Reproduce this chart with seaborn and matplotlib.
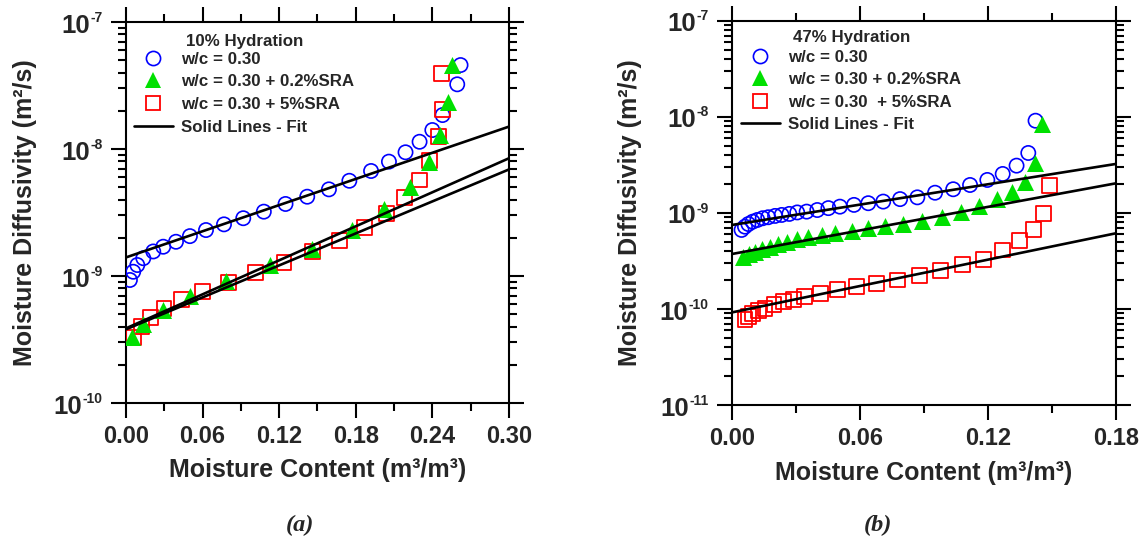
import matplotlib
matplotlib.use("Agg")
import matplotlib.pyplot as plt
from matplotlib.lines import Line2D
from matplotlib.ticker import MultipleLocator, LogLocator, NullFormatter
import seaborn as sns

# ---------------- data (a) 10% hydration ----------------
a_wc_x = [0.0031, 0.0057, 0.0089, 0.0136, 0.0214, 0.0292, 0.0392, 0.0501, 0.0627, 0.0768,
          0.0919, 0.108, 0.125, 0.142, 0.159, 0.175, 0.192, 0.206, 0.219, 0.230,
          0.240, 0.248, 0.2595, 0.2621]
a_wc_y = [9.3e-10, 1.08e-9, 1.22e-9, 1.38e-9, 1.56e-9, 1.70e-9, 1.86e-9, 2.06e-9, 2.30e-9, 2.55e-9,
          2.85e-9, 3.21e-9, 3.69e-9, 4.21e-9, 4.81e-9, 5.62e-9, 6.71e-9, 7.95e-9, 9.42e-9, 1.14e-8,
          1.41e-8, 1.85e-8, 3.23e-8, 4.58e-8]
a_sra02_x = [0.0045, 0.0136, 0.0287, 0.0501, 0.0783, 0.1128, 0.1459, 0.1773, 0.2023, 0.2225,
             0.2376, 0.2460, 0.2525, 0.2556]
a_sra02_y = [3.33e-10, 4.19e-10, 5.40e-10, 6.96e-10, 9.19e-10, 1.21e-9, 1.63e-9, 2.30e-9, 3.35e-9, 4.99e-9,
             7.95e-9, 1.29e-8, 2.36e-8, 4.58e-8]
a_sra5_x = [0.0057, 0.0123, 0.0193, 0.0298, 0.0436, 0.0601, 0.0801, 0.1016, 0.1238, 0.1459,
            0.1671, 0.1872, 0.2042, 0.2185, 0.2297, 0.2381, 0.2446, 0.2480, 0.2473]
a_sra5_y = [3.29e-10, 3.99e-10, 4.73e-10, 5.57e-10, 6.56e-10, 7.52e-10, 8.85e-10, 1.06e-9, 1.27e-9, 1.55e-9,
            1.89e-9, 2.42e-9, 3.12e-9, 4.14e-9, 5.70e-9, 8.09e-9, 1.25e-8, 2.05e-8, 3.94e-8]
a_fit_x = [0.0, 0.30]
a_fit_wc = [1.40e-9, 1.50e-8]
a_fit_sra02 = [3.87e-10, 8.45e-9]
a_fit_sra5 = [3.80e-10, 6.90e-9]

# ---------------- data (b) 47% hydration ----------------
b_wc_x = [0.0045, 0.0061, 0.0077, 0.0097, 0.0119, 0.0144, 0.0170, 0.0202, 0.0233, 0.0269,
          0.0306, 0.0350, 0.0400, 0.0452, 0.0506, 0.0572, 0.0639, 0.0709, 0.0788, 0.0869,
          0.0952, 0.1037, 0.1116, 0.1197, 0.1269, 0.1334, 0.1389, 0.1423]
b_wc_y = [6.64e-10, 7.18e-10, 7.65e-10, 8.09e-10, 8.43e-10, 8.79e-10, 9.00e-10, 9.29e-10, 9.51e-10, 9.75e-10,
          1.01e-9, 1.03e-9, 1.07e-9, 1.12e-9, 1.16e-9, 1.21e-9, 1.26e-9, 1.31e-9, 1.39e-9, 1.45e-9,
          1.62e-9, 1.76e-9, 1.95e-9, 2.20e-9, 2.54e-9, 3.10e-9, 4.20e-9, 9.1e-9]
b_sra02_x = [0.0053, 0.0081, 0.0108, 0.0139, 0.0178, 0.0217, 0.0259, 0.0306, 0.0358, 0.0420,
             0.0483, 0.0561, 0.0639, 0.0717, 0.0803, 0.0889, 0.0983, 0.1072, 0.1159, 0.1241,
             0.1311, 0.1373, 0.1420, 0.1452]
b_sra02_y = [3.50e-10, 3.73e-10, 3.95e-10, 4.18e-10, 4.45e-10, 4.74e-10, 5.01e-10, 5.31e-10, 5.57e-10, 5.89e-10,
             6.13e-10, 6.53e-10, 6.92e-10, 7.31e-10, 7.66e-10, 8.29e-10, 9.14e-10, 1.03e-9, 1.18e-9, 1.39e-9,
             1.66e-9, 2.11e-9, 3.28e-9, 8.5e-9]
b_sra5_x = [0.0061, 0.0077, 0.0097, 0.0124, 0.0155, 0.0197, 0.0241, 0.0288, 0.0342, 0.0416,
            0.0494, 0.0584, 0.0678, 0.0775, 0.0878, 0.0978, 0.1081, 0.1178, 0.1269, 0.1347,
            0.1412, 0.1459, 0.1487]
b_sra5_y = [7.82e-11, 8.32e-11, 8.87e-11, 9.60e-11, 1.02e-10, 1.10e-10, 1.19e-10, 1.26e-10, 1.34e-10, 1.46e-10,
            1.58e-10, 1.71e-10, 1.82e-10, 2.00e-10, 2.21e-10, 2.51e-10, 2.87e-10, 3.29e-10, 4.11e-10, 5.13e-10,
            6.74e-10, 9.91e-10, 1.91e-9]
b_fit_x = [0.0, 0.18]
b_fit_wc = [7.48e-10, 3.23e-9]
b_fit_sra02 = [3.73e-10, 2.03e-9]
b_fit_sra5 = [9.2e-11, 6.13e-10]

a_yticks = [1e-10, 1e-9, 1e-8, 1e-7]
a_yexp = ["-10", "-9", "-8", "-7"]
b_yticks = [1e-11, 1e-10, 1e-9, 1e-8, 1e-7]
b_yexp = ["-11", "-10", "-9", "-8", "-7"]

labels_a = ["w/c = 0.30", "w/c = 0.30 + 0.2%SRA", "w/c = 0.30 + 5%SRA", "Solid Lines - Fit"]
labels_b = ["w/c = 0.30", "w/c = 0.30 + 0.2%SRA", "w/c = 0.30  + 5%SRA", "Solid Lines - Fit"]
titles = ["10% Hydration", "47% Hydration"]
xlabel = "Moisture Content (m³/m³)"
ylabel = "Moisture Diffusivity (m²/s)"

# ---------------- style ----------------
sns.set_theme(style="ticks")
plt.rcParams.update({
    "font.family": ["Liberation Sans", "DejaVu Sans"],
    "font.weight": "bold",
    "axes.labelweight": "bold",
    "axes.unicode_minus": False,
    "axes.linewidth": 1.5,
})

BLUE = "#0000FF"
GREEN = "#00E000"
RED = "#FF0000"

fig = plt.figure(figsize=(11.46, 5.58), dpi=100)
axA = fig.add_axes([0.1099, 0.2778, 0.3342, 0.6828])
axB = fig.add_axes([0.6387, 0.2742, 0.3351, 0.6887])


def draw(ax, wc_x, wc_y, s2_x, s2_y, s5_x, s5_y, fx, f1, f2, f3, xmax, yticks,
         labels, title, title_xy, leg_xy):
    ax.set_yscale("log")
    sns.scatterplot(x=wc_x, y=wc_y, ax=ax, marker="o", s=105, facecolor="none",
                    edgecolor=BLUE, linewidth=1.2, zorder=3)
    sns.scatterplot(x=s2_x, y=s2_y, ax=ax, marker="^", s=150, color=GREEN,
                    edgecolor=GREEN, linewidth=0, zorder=4)
    sns.scatterplot(x=s5_x, y=s5_y, ax=ax, marker="s", s=115, facecolor="none",
                    edgecolor=RED, linewidth=1.3, zorder=3)
    for fy in (f1, f2, f3):
        sns.lineplot(x=fx, y=fy, ax=ax, color="black", linewidth=1.9, zorder=5)
    ax.set_xlim(0, xmax)
    ax.set_ylim(yticks[0], yticks[-1])
    ax.xaxis.set_major_locator(MultipleLocator(0.06))
    ax.xaxis.set_minor_locator(MultipleLocator(0.03))
    ax.set_yticks(yticks)
    ax.yaxis.set_minor_locator(LogLocator(base=10, subs=range(2, 10), numticks=20))
    ax.yaxis.set_major_formatter(NullFormatter())
    ax.yaxis.set_minor_formatter(NullFormatter())
    ax.xaxis.set_major_formatter(plt.FuncFormatter(lambda v, p: f"{v:.2f}"))
    ax.tick_params(which="both", direction="out", top=True, right=True,
                   labeltop=False, labelright=False, width=1.5, color="black")
    ax.tick_params(which="major", length=11)
    ax.tick_params(which="minor", length=5.5)
    ax.tick_params(axis="x", labelsize=17, pad=5)
    for lab in ax.get_xticklabels():
        lab.set_fontweight("bold")
    for sp in ax.spines.values():
        sp.set_visible(True)
        sp.set_linewidth(1.5)
        sp.set_color("black")
    ax.set_xlabel(xlabel, fontsize=18, fontweight="bold")
    ax.set_ylabel(ylabel, fontsize=18, fontweight="bold")
    ax.xaxis.set_label_coords(0.5, -0.145)
    ax.yaxis.set_label_coords(-0.233, 0.5)
    ax.grid(False)

    ax.text(title_xy[0], title_xy[1], title, transform=ax.transAxes, ha="center",
            va="center", fontsize=12.2, fontweight="bold")

    handles = [
        Line2D([], [], linestyle="none", marker="o", markersize=10.2, markerfacecolor="none",
               markeredgecolor=BLUE, markeredgewidth=1.2),
        Line2D([], [], linestyle="none", marker="^", markersize=11.5, markerfacecolor=GREEN,
               markeredgecolor=GREEN, markeredgewidth=0),
        Line2D([], [], linestyle="none", marker="s", markersize=10.5, markerfacecolor="none",
               markeredgecolor=RED, markeredgewidth=1.3),
        Line2D([], [], color="black", linewidth=1.9),
    ]
    leg = ax.legend(handles, labels, loc="upper left", bbox_to_anchor=leg_xy,
                    frameon=False, fontsize=12.2, borderpad=0,
                    labelspacing=0.45, handlelength=2.3, handletextpad=0.5, borderaxespad=0)
    for t in leg.get_texts():
        t.set_fontweight("bold")


draw(axA, a_wc_x, a_wc_y, a_sra02_x, a_sra02_y, a_sra5_x, a_sra5_y,
     a_fit_x, a_fit_wc, a_fit_sra02, a_fit_sra5, 0.30, a_yticks,
     labels_a, titles[0], (0.311, 0.948), (0.021, 0.922))
draw(axB, b_wc_x, b_wc_y, b_sra02_x, b_sra02_y, b_sra5_x, b_sra5_y,
     b_fit_x, b_fit_wc, b_fit_sra02, b_fit_sra5, 0.18, b_yticks,
     labels_b, titles[1], (0.3125, 0.957), (0.023, 0.925))

# y tick labels "10" with small exponent, right aligned next to the ticks
fig.canvas.draw()
renderer = fig.canvas.get_renderer()
for ax, ticks, exps in ((axA, a_yticks, a_yexp), (axB, b_yticks, b_yexp)):
    tr = ax.get_yaxis_transform()
    for v, e in zip(ticks, exps):
        et = ax.annotate(e, xy=(0, v), xycoords=tr, xytext=(-17.0, 4.2),
                         textcoords="offset points", ha="right", va="center_baseline",
                         fontsize=10, fontweight="bold", annotation_clip=False)
        w_pt = et.get_window_extent(renderer).width * 72.0 / fig.dpi
        ax.annotate("10", xy=(0, v), xycoords=tr, xytext=(-17.0 - w_pt - 0.3, -0.8),
                    textcoords="offset points", ha="right", va="center_baseline",
                    fontsize=18.5, fontweight="bold", annotation_clip=False)

fig.text(0.262, 0.058, "(a)", family="Liberation Serif", style="italic", weight="bold",
         fontsize=17.5, ha="center", va="center")
fig.text(0.766, 0.058, "(b)", family="Liberation Serif", style="italic", weight="bold",
         fontsize=17.5, ha="center", va="center")

fig.savefig("out.png", dpi=100)
